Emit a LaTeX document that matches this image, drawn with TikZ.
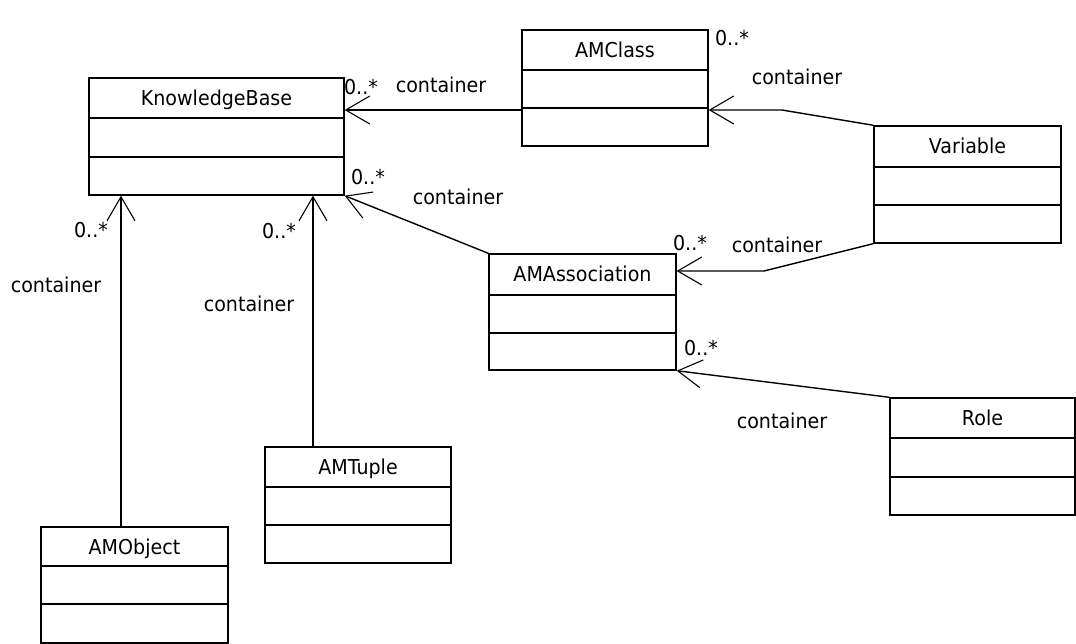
\documentclass[tikz,border=0pt]{standalone}
\usepackage{fontspec}
\setmainfont{DejaVu Sans}[FakeStretch=0.93]
\usetikzlibrary{arrows.meta,fit}

\tikzset{
  classbox/.style={draw, line width=1.4pt, inner sep=0pt},
  rule/.style={line width=1.4pt},
  classname/.style={font=\fontsize{20.5}{22}\selectfont, inner sep=0pt, anchor=base},
  lbl/.style={font=\fontsize{20.5}{22}\selectfont, inner sep=0pt},
  assoc/.style={line width=1.4pt, -{Straight Barb[length=24pt,width=28pt,line width=1.1pt]}},
}

% \umlclass{name}{x1}{y1}{x2}{y2}{divider1}{divider2}{title}
\newcommand\umlclass[8]{%
  \node[classbox, fit={(#2,#3) (#4,#5)}] (#1) {};
  \draw[rule] (#2,#6) -- (#4,#6);
  \draw[rule] (#2,#7) -- (#4,#7);
  \node[classname] (#1-name) at ({(#2+#4)/2},{(#3+#6)/2+7.5}) {#8};
}

\begin{document}
\begin{tikzpicture}[x=1pt,y=-1pt]
  \useasboundingbox (0,0) rectangle (1076,644);

  % classes
  \umlclass{kb}{89}{78}{344}{195}{118}{157}{KnowledgeBase}
  \umlclass{amclass}{522}{30}{708}{146}{70}{108}{AMClass}
  \umlclass{variable}{874}{126}{1061}{243}{167}{205}{Variable}
  \umlclass{amassoc}{489}{254}{676}{370}{295}{333}{AMAssociation}
  \umlclass{amobject}{41}{527}{228}{643}{566}{604}{AMObject}
  \umlclass{amtuple}{265}{447}{451}{563}{487}{525}{AMTuple}
  \umlclass{role}{890}{398}{1075}{515}{438}{477}{Role}

  % helper points for the association routes
  \coordinate (rowA) at (0,110);
  \coordinate (rowB) at (0,271);
  \coordinate (bendA) at (782,110);
  \coordinate (bendB) at (764,271);
  \coordinate (colObj) at (121,0);
  \coordinate (colTup) at (313,0);

  % associations
  \draw[assoc] (amclass.west |- rowA) -- (kb.east |- rowA);
  \draw[assoc] (variable.north west) -- (bendA) -- (amclass.east |- rowA);
  \draw[assoc] (variable.south west) -- (bendB) -- (amassoc.east |- rowB);
  \draw[assoc] (amassoc.north west) -- (kb.south east);
  \draw[assoc] (role.north west) -- (amassoc.south east);
  \draw[assoc] (amobject.north -| colObj) -- (kb.south -| colObj);
  \draw[assoc] (amtuple.north -| colTup) -- (kb.south -| colTup);

  % multiplicities and role names
  \node[lbl] (m1) at (361,87) {0..*};
  \node[lbl] (r1) at (441,85) {container};
  \node[lbl] (m2) at (368,177) {0..*};
  \node[lbl] (r2) at (458,197) {container};
  \node[lbl] (m3) at (732,38) {0..*};
  \node[lbl] (r3) at (797,77) {container};
  \node[lbl] (m4) at (690,243) {0..*};
  \node[lbl] (r4) at (777,245) {container};
  \node[lbl] (m5) at (701,348) {0..*};
  \node[lbl] (r5) at (782,421) {container};
  \node[lbl] (m6) at (91,230) {0..*};
  \node[lbl] (r6) at (56,285) {container};
  \node[lbl] (m7) at (279,231) {0..*};
  \node[lbl] (r7) at (249,304) {container};
\end{tikzpicture}
\end{document}
